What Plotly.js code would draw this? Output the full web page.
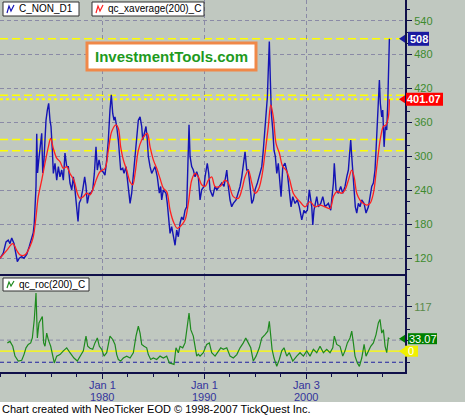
<!DOCTYPE html>
<html><head><meta charset="utf-8">
<script src="https://cdn.plot.ly/plotly-3.0.1.min.js"></script>
<style>html,body{margin:0;padding:0;background:#c0c8c0;}#chart{width:465px;height:416px;}</style>
</head><body><div id="chart"></div>
<script>
// ---- data ----
const closeYears = [1970.00,1970.32,1970.59,1970.81,1970.98,1971.15,1971.37,1971.57,1971.70,1971.89,1972.13,1972.35,1972.62,1972.87,1973.11,1973.26,1973.36,1973.43,1973.53,1973.60,1973.68,1973.80,1974.09,1974.19,1974.31,1974.41,1974.51,1974.64,1974.77,1974.90,1975.00,1975.13,1975.23,1975.39,1975.56,1975.72,1975.88,1976.05,1976.21,1976.37,1976.54,1976.70,1976.86,1977.03,1977.19,1977.35,1977.52,1977.65,1977.77,1977.91,1978.11,1978.30,1978.43,1978.56,1978.75,1978.89,1979.09,1979.25,1979.41,1979.54,1979.71,1979.90,1980.13,1980.29,1980.46,1980.62,1980.78,1980.91,1981.05,1981.18,1981.27,1981.44,1981.60,1981.70,1981.83,1982.03,1982.16,1982.35,1982.48,1982.62,1982.75,1982.91,1983.07,1983.24,1983.40,1983.56,1983.73,1983.89,1983.99,1984.12,1984.31,1984.44,1984.54,1984.71,1984.87,1985.03,1985.20,1985.42,1985.62,1985.75,1985.85,1986.01,1986.27,1986.40,1986.54,1986.67,1986.83,1986.99,1987.16,1987.32,1987.48,1987.65,1987.81,1987.97,1988.14,1988.30,1988.43,1988.53,1988.63,1988.79,1988.95,1989.12,1989.28,1989.44,1989.61,1989.77,1990.00,1990.10,1990.32,1990.46,1990.59,1990.85,1991.08,1991.25,1991.50,1991.74,1991.96,1992.23,1992.38,1992.55,1992.71,1992.87,1993.14,1993.36,1993.53,1993.70,1993.85,1994.02,1994.19,1994.34,1994.51,1994.68,1994.83,1995.00,1995.23,1995.42,1995.66,1995.81,1995.98,1996.08,1996.21,1996.30,1996.40,1996.50,1996.60,1996.74,1996.86,1996.99,1997.13,1997.28,1997.45,1997.55,1997.72,1997.94,1998.17,1998.36,1998.53,1998.70,1998.92,1999.15,1999.34,1999.58,1999.80,1999.90,2000.13,2000.32,2000.56,2000.66,2000.78,2001.05,2001.21,2001.44,2001.64,2001.86,2002.19,2002.42,2002.58,2002.68,2002.77,2002.94,2003.17,2003.40,2003.60,2003.82,2003.99,2004.15,2004.25,2004.38,2004.48,2004.58,2004.71,2004.83,2004.97,2005.13,2005.29,2005.46,2005.69,2005.88,2006.11,2006.27,2006.44,2006.60,2006.76,2006.86,2006.99,2007.09,2007.19,2007.28,2007.42,2007.52,2007.65,2007.77,2007.91,2008.01,2008.11,2008.17];
const closeVals = [120,129,149,152,146,156,146,129,114,120,123,120,127,141,158,165,182,205,247,340,271,294,341,271,294,329,364,382,394,364,353,311,270,288,258,282,264,276,258,306,282,282,253,241,264,241,211,185,218,223,241,264,247,217,235,235,241,270,317,276,294,276,272,267,294,329,382,409,376,364,370,353,329,300,276,279,270,282,264,241,217,235,270,300,329,364,370,353,329,341,353,329,300,282,270,276,282,264,235,247,223,241,235,217,182,164,176,158,143,170,158,182,193,188,205,211,300,356,300,282,276,264,273,264,223,241,247,264,288,270,241,229,247,241,247,253,247,276,247,223,211,217,223,235,247,264,288,308,276,276,247,217,223,241,253,264,282,311,347,376,405,453,503,435,376,347,311,300,270,288,247,229,282,288,270,241,211,229,217,223,211,188,205,200,205,241,211,179,205,229,211,217,229,211,217,205,229,253,288,241,235,247,235,247,264,276,300,329,300,276,247,211,200,217,211,223,217,200,211,229,247,253,276,311,358,388,435,394,370,382,317,353,347,394,453,508];

const emaYears = [1970.00,1970.66,1971.25,1971.64,1971.96,1972.45,1972.94,1973.26,1973.53,1973.75,1974.09,1974.41,1974.74,1974.97,1975.23,1975.56,1975.88,1976.21,1976.54,1976.86,1977.25,1977.58,1977.84,1978.17,1978.50,1978.82,1979.15,1979.48,1979.80,1980.29,1980.62,1980.95,1981.37,1981.60,1981.83,1982.09,1982.42,1982.75,1983.01,1983.24,1983.56,1983.89,1984.22,1984.44,1984.71,1985.03,1985.36,1985.69,1986.01,1986.34,1986.67,1986.99,1987.38,1987.81,1988.14,1988.46,1988.79,1989.12,1989.44,1989.77,1990.10,1990.42,1990.75,1991.08,1991.57,1992.06,1992.38,1992.87,1993.36,1993.70,1994.02,1994.34,1994.68,1995.00,1995.32,1995.66,1995.98,1996.30,1996.54,1996.79,1997.06,1997.38,1997.72,1998.04,1998.36,1998.75,1999.09,1999.41,1999.90,2000.39,2000.88,2001.37,2001.86,2002.35,2002.68,2003.01,2003.50,2003.82,2004.15,2004.48,2004.71,2004.97,2005.29,2005.62,2005.95,2006.27,2006.60,2006.86,2007.09,2007.32,2007.58,2007.84,2008.07,2008.17];
const emaVals = [120,134,146,134,126,126,141,158,193,229,258,288,317,332,314,297,291,279,282,270,258,235,226,229,235,232,244,261,273,279,311,344,356,350,317,294,276,255,250,270,311,329,338,341,317,294,279,261,244,238,205,185,173,179,188,217,258,270,264,250,247,258,264,247,247,258,253,229,226,241,264,276,253,235,241,264,306,353,391,370,323,306,282,276,261,235,226,220,211,220,211,214,211,208,229,238,235,241,258,276,264,235,223,217,214,217,235,270,306,335,353,356,370,401.07];

const rocYears = [1970.72,1970.98,1971.25,1971.47,1971.79,1972.13,1972.35,1972.55,1972.77,1973.01,1973.17,1973.36,1973.53,1973.66,1973.82,1973.99,1974.15,1974.28,1974.41,1974.58,1974.74,1974.97,1975.13,1975.32,1975.56,1975.88,1976.21,1976.54,1976.86,1977.25,1977.58,1977.84,1978.17,1978.43,1978.60,1978.82,1979.09,1979.31,1979.54,1979.74,1979.97,1980.20,1980.46,1980.78,1981.05,1981.27,1981.44,1981.60,1981.83,1982.09,1982.42,1982.75,1983.07,1983.33,1983.56,1983.73,1983.89,1984.12,1984.38,1984.54,1984.77,1985.03,1985.36,1985.69,1986.01,1986.34,1986.60,1986.83,1987.06,1987.25,1987.48,1987.65,1987.91,1988.14,1988.36,1988.53,1988.70,1988.95,1989.12,1989.28,1989.44,1989.61,1989.93,1990.26,1990.52,1990.75,1991.08,1991.40,1991.64,1991.89,1992.23,1992.55,1992.87,1993.21,1993.53,1993.85,1994.09,1994.34,1994.58,1994.83,1995.10,1995.42,1995.66,1995.98,1996.25,1996.40,1996.54,1996.67,1996.86,1997.13,1997.38,1997.62,1997.84,1998.11,1998.36,1998.70,1999.09,1999.41,1999.74,2000.07,2000.39,2000.72,2001.05,2001.37,2001.70,2002.03,2002.35,2002.62,2002.77,2003.01,2003.33,2003.60,2003.82,2004.05,2004.31,2004.48,2004.64,2004.80,2005.03,2005.23,2005.46,2005.69,2005.88,2006.11,2006.34,2006.60,2006.86,2007.09,2007.25,2007.42,2007.58,2007.75,2007.91,2008.07,2008.17];
const rocVals = [22,26,13,-13,-26,-24,-9,9,18,22,35,84,154,35,75,84,92,22,13,48,30,13,-4,-31,-13,-9,1,9,-4,-18,-26,-13,1,40,13,8,5,22,35,13,5,-13,-4,40,31,18,-9,-22,-26,-18,-13,-18,-4,40,66,48,18,13,9,-9,-22,-18,-22,-13,-18,-13,-31,-33,-35,9,-4,13,9,22,66,101,57,40,13,-13,-8,-13,-4,18,22,-4,-13,1,9,5,9,-13,-18,-9,9,22,35,22,9,-26,-13,9,35,44,53,79,31,5,-18,-40,-22,1,9,-13,-4,-26,-13,-4,-13,1,-13,5,-4,13,-4,5,-4,9,40,18,13,-13,1,22,35,53,22,-13,-31,-40,-18,18,-13,1,13,22,44,75,84,48,57,13,-4,35,33.07];

const priceTicks = [120,180,240,300,360,420,480,540];
const dateTicks = [1980,1990,2000];
const dateLabels = ['Jan 1<br>1980','Jan 1<br>1990','Jan 3<br>2000'];
const rocTicks = [117];
const levelLines = [508,408,330,310];
const lastClose = 508, lastEma = 401.07, lastRoc = 33.07;
const seriesNames = ['C_NON_D1','qc_xaverage(200)_C','qc_roc(200)_C'];

// ---- layout helpers (pixel -> paper) ----
const PW = 405, PH = 372;
const px = x => x / PW;
const py = y => 1 - y / PH;
const BG = '#c0c8c0', NAVY = '#10104a', GRID = '#8a8aa6';
const FONT = 'Liberation Sans, Arial, sans-serif';

const traces = [
  {x: closeYears, y: closeVals, type: 'scatter', mode: 'lines', line: {color: '#1414b4', width: 1.4}, xaxis: 'x', yaxis: 'y', hoverinfo: 'skip'},
  {x: emaYears, y: emaVals, type: 'scatter', mode: 'lines', line: {color: '#ff2020', width: 1.3, shape: 'spline'}, xaxis: 'x', yaxis: 'y', hoverinfo: 'skip'},
  {x: rocYears, y: rocVals, type: 'scatter', mode: 'lines', line: {color: '#1e8a1e', width: 1.2}, xaxis: 'x2', yaxis: 'y2', hoverinfo: 'skip'}
];

const shapes = [];
// footer strip
shapes.push({type: 'rect', xref: 'paper', yref: 'paper', x0: -0.05, x1: px(470), y0: py(402), y1: py(420), fillcolor: '#ffffff', line: {width: 0}, layer: 'below'});
// yellow level lines
levelLines.forEach(v => shapes.push({type: 'line', xref: 'paper', yref: 'y', x0: 0, x1: 1, y0: v, y1: v, line: {color: '#ffff00', width: 1.5, dash: '8px,4px'}, layer: 'below'}));
shapes.push({type: 'line', xref: 'paper', yref: 'y', x0: 0, x1: 1, y0: lastEma, y1: lastEma, line: {color: '#ffff00', width: 2, dash: 'dot'}, layer: 'below'});
// lower panel lines
shapes.push({type: 'line', xref: 'paper', yref: 'y2', x0: 0, x1: 1, y0: 29.25, y1: 29.25, line: {color: GRID, width: 1, dash: '4px,3px'}, layer: 'below'});
shapes.push({type: 'line', xref: 'paper', yref: 'y2', x0: 0, x1: 1, y0: -29.25, y1: -29.25, line: {color: '#2020a0', width: 1, dash: '4px,3px'}, layer: 'below'});
shapes.push({type: 'line', xref: 'paper', yref: 'y2', x0: 0, x1: 1, y0: 0, y1: 0, line: {color: '#ffff00', width: 1.3}, layer: 'below'});
// legend boxes
function legendBox(x0, x1, y0, y1, color) {
  shapes.push({type: 'rect', xref: 'paper', yref: 'paper', x0: px(x0), x1: px(x1), y0: py(y1), y1: py(y0), fillcolor: '#ffffff', line: {color: '#303030', width: 1}});
  const zx = [x0 + 4, x0 + 6, x0 + 8, x0 + 11], zy = [y1 - 3, y0 + 4, y1 - 5, y0 + 3];
  let p = 'M' + px(zx[0]) + ',' + py(zy[0]);
  for (let i = 1; i < 4; i++) p += ' L' + px(zx[i]) + ',' + py(zy[i]);
  shapes.push({type: 'path', xref: 'paper', yref: 'paper', path: p, line: {color: color, width: 1.2}});
}
legendBox(3, 79, 2, 16, '#1414b4');
legendBox(92, 204, 2, 16, '#ff2020');
legendBox(3, 89, 278, 291, '#1e8a1e');
// InvestmentTools box
shapes.push({type: 'rect', xref: 'paper', yref: 'paper', x0: px(87), x1: px(256), y0: py(70), y1: py(43), fillcolor: '#ffffff', line: {color: '#f08848', width: 3}});
// value label boxes on the right
function valBox(x0, x1, yc, h, color) {
  shapes.push({type: 'rect', xref: 'paper', yref: 'paper', x0: px(x0), x1: px(x1), y0: py(yc + h / 2), y1: py(yc - h / 2), fillcolor: color, line: {width: 0}});
  shapes.push({type: 'path', xref: 'paper', yref: 'paper', path: 'M' + px(399) + ',' + py(yc) + ' L' + px(405) + ',' + py(yc - 4) + ' L' + px(405) + ',' + py(yc + 4) + ' Z', fillcolor: color, line: {width: 0}});
}
const yTop = v => 20.7 + (540 - v) * 0.5657;
const yBot = v => 351.2 - v * 0.378;
valBox(408, 429, yTop(lastClose), 14, '#1a1aa0');
valBox(406, 443, yTop(lastEma), 13, '#ff0000');
valBox(408, 437, yBot(lastRoc), 11, '#008000');
valBox(405, 418, yBot(0), 11, '#f0f000');

const ann = [];
function txt(x, y, t, opts) {
  ann.push(Object.assign({xref: 'paper', yref: 'paper', x: px(x), y: py(y), text: t, showarrow: false, xanchor: 'left', yanchor: 'middle', font: {family: FONT, size: 11, color: '#000'}}, opts || {}));
}
txt(17, 9, seriesNames[0], {font: {family: FONT, size: 10, color: '#000'}});
txt(106, 9, seriesNames[1], {font: {family: FONT, size: 10, color: '#000'}});
txt(17, 284.5, seriesNames[2], {font: {family: FONT, size: 10, color: '#000'}});
txt(171.5, 56.5, '<b>InvestmentTools.com</b>', {xanchor: 'center', font: {family: FONT, size: 15, color: '#1e9a1e'}});
txt(418.5, yTop(lastClose), '<b>' + lastClose + '</b>', {xanchor: 'center', font: {family: FONT, size: 11, color: '#fff'}});
txt(424.5, yTop(lastEma), '<b>' + lastEma.toFixed(2) + '</b>', {xanchor: 'center', font: {family: FONT, size: 11, color: '#fff'}});
txt(422.5, yBot(lastRoc), lastRoc.toFixed(2), {xanchor: 'center', font: {family: FONT, size: 11, color: '#fff'}});
txt(411.5, yBot(0), '0', {xanchor: 'center', font: {family: FONT, size: 11, color: '#fff'}});
txt(0, 409, 'Chart created with NeoTicker EOD © 1998-2007 TickQuest Inc.', {font: {family: FONT, size: 11, color: '#000'}});
// date tick labels (two lines each)
dateTicks.forEach((d, i) => {
  const parts = dateLabels[i].split('<br>');
  parts.forEach((s, j) => ann.push({xref: 'x2', yref: 'paper', x: d, y: py(385 + 12 * j), text: s, showarrow: false,
    xanchor: 'center', yanchor: 'middle', font: {family: FONT, size: 11, color: '#34349c'}}));
});

const xr = [1970.0, 2009.7];
const layout = {
  width: 465, height: 416,
  margin: {l: 0, r: 60, t: 0, b: 44, pad: 0},
  paper_bgcolor: BG, plot_bgcolor: BG,
  showlegend: false,
  xaxis: {domain: [0, 1], anchor: 'y', range: xr, tickmode: 'array', tickvals: dateTicks, showticklabels: false,
          showgrid: true, gridcolor: GRID, griddash: '4px,3px', gridwidth: 1, ticks: '', zeroline: false,
          showline: true, linecolor: NAVY, linewidth: 2},
  yaxis: {domain: [py(274), 1], anchor: 'x', side: 'right', range: [92.2, 576.6], tickmode: 'array', tickvals: priceTicks,
          showgrid: true, gridcolor: GRID, griddash: '4px,3px', zeroline: false,
          ticks: 'outside', ticklen: 5, tickcolor: NAVY, tickwidth: 1,
          showline: true, linecolor: NAVY, linewidth: 2,
          tickfont: {family: FONT, size: 11, color: '#3d8a2e'},
          minor: {tickmode: 'linear', tick0: 0, dtick: 20, ticks: 'outside', ticklen: 3, tickcolor: NAVY, showgrid: false}},
  xaxis2: {domain: [0, 1], anchor: 'y2', range: xr, tickmode: 'array', tickvals: dateTicks, showticklabels: false,
           showgrid: true, gridcolor: GRID, griddash: '4px,3px', zeroline: false,
           ticks: 'outside', ticklen: 5, tickcolor: NAVY,
           minor: {tickmode: 'linear', tick0: 1970, dtick: 2.5, ticks: 'outside', ticklen: 3, tickcolor: NAVY, showgrid: false},
           showline: true, linecolor: NAVY, linewidth: 2},
  yaxis2: {domain: [0, py(276)], anchor: 'x2', side: 'right', range: [-55, 198.9], tickmode: 'array', tickvals: rocTicks,
           showgrid: true, gridcolor: GRID, griddash: '4px,3px', zeroline: false,
           ticks: 'outside', ticklen: 5, tickcolor: NAVY,
           showline: true, linecolor: NAVY, linewidth: 2,
           tickfont: {family: FONT, size: 11, color: '#5a8a4a'},
           minor: {tickmode: 'linear', tick0: 0, dtick: 29.25, ticks: 'outside', ticklen: 3, tickcolor: NAVY, showgrid: false}},
  shapes: shapes,
  annotations: ann
};
Plotly.newPlot('chart', traces, layout, {staticPlot: true, displayModeBar: false});
</script></body></html>
